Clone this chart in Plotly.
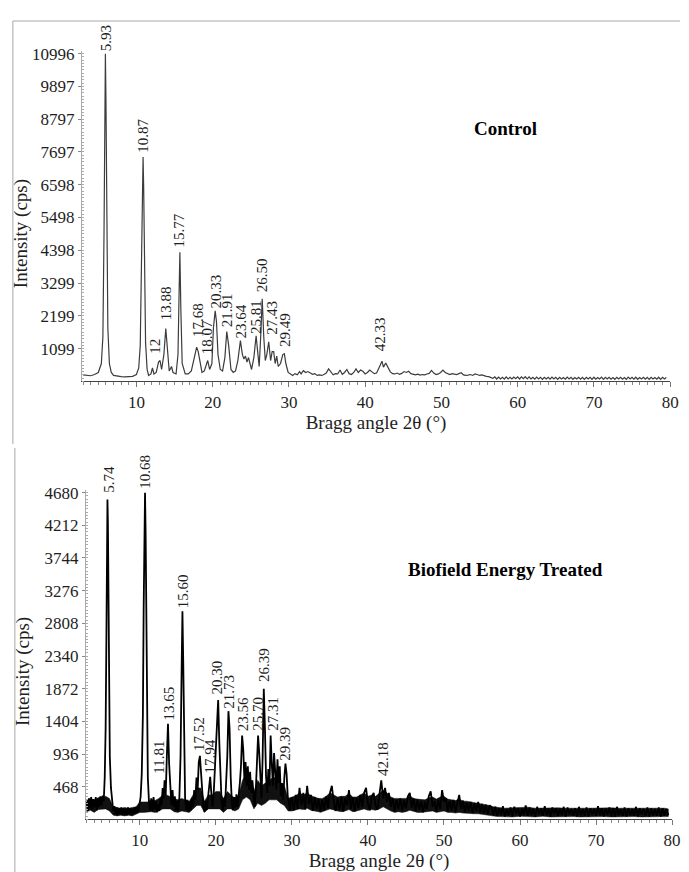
import plotly.graph_objects as go

# ---------------- data ----------------
CONTROL_SCAN = """
3.0 220 3.5 200 4.0 190 4.5 230 5.0 300 5.4 600 5.6 1500 5.75 5000 5.85 9000 5.93 10996
6.0 9500 6.1 5500 6.25 1800 6.45 600 6.7 300 7.0 200 7.5 170 8.0 160 8.5 150 9.0 150
9.5 170 10.0 230 10.3 450 10.5 1200 10.7 4500 10.8 6800 10.87 7530 10.95 6500 11.05 3800
11.2 1300 11.4 400 11.6 200 11.9 250 12.1 450 12.3 250 12.6 300 12.9 650 13.1 700 13.3 400
13.6 900 13.85 1770 14.1 900 14.3 350 14.6 500 14.8 300 15.2 250 15.45 900 15.62 3300
15.7 4330 15.82 2500 16.0 600 16.4 250 16.8 250 17.2 350 17.5 650 17.7 900 17.9 1150
18.1 1000 18.3 700 18.6 300 18.9 350 19.2 650 19.35 700 19.6 400 19.9 600 20.1 1800
20.33 2370 20.5 2000 20.7 900 21.0 400 21.3 350 21.6 800 21.85 1670 22.1 1200 22.4 400
22.7 300 23.0 350 23.3 700 23.64 1370 23.9 900 24.1 750 24.3 850 24.5 650 24.7 800
24.9 600 25.1 400 25.4 800 25.7 1530 25.9 1000 26.1 500 26.3 1500 26.5 2770 26.7 1500
26.9 700 27.1 900 27.35 1330 27.6 700 27.8 1000 28.0 1000 28.2 600 28.4 850 28.6 500
28.9 600 29.2 900 29.4 930 29.6 600 29.9 300 30.2 250 30.5 200 30.8 260 31.1 220
31.4 330 31.6 250 31.9 360 32.2 300 32.5 330 32.8 280 33.1 240 33.4 260 33.7 200
34.0 220 34.3 200 34.6 230 34.9 280 35.2 420 35.5 300 35.8 220 36.1 260 36.4 250
36.7 380 37.0 240 37.3 300 37.6 400 37.9 260 38.2 230 38.5 300 38.8 420 39.1 300
39.4 380 39.7 340 40.0 250 40.3 300 40.6 380 40.9 320 41.2 260 41.5 280 41.8 420
42.0 560 42.2 680 42.4 480 42.7 620 43.0 450 43.3 320 43.6 260 43.9 250 44.2 280
44.5 240 44.8 270 45.1 330 45.4 300 45.7 340 46.0 260 46.3 230 46.6 220 46.9 240
47.2 210 47.5 230 47.8 220 48.1 250 48.4 270 48.7 370 49.0 280 49.3 230 49.6 250
49.9 300 50.2 380 50.5 300 50.8 250 51.1 230 51.4 260 51.7 240 52.0 230 52.3 260
52.6 290 52.9 220 53.2 200 53.5 210 53.8 230 54.1 200 54.4 250 54.7 230 55.0 200
55.3 220 55.6 190 55.9 170 56.2 160 56.5 140 56.75 100 57.0 150 57.25 80 57.5 145
57.75 85 58.0 140 58.25 75 58.5 150 58.75 85 59.0 135 59.25 80 59.5 145 59.75 90
60.0 150 60.25 80 60.5 155 60.75 90 61.0 160 61.25 85 61.5 150 61.75 80 62.0 140
62.25 75 62.5 145 62.75 85 63.0 135 63.25 70 63.5 140 63.75 80 64.0 135 64.25 75
64.5 145 64.75 80 65.0 135 65.25 70 65.5 140 65.75 80 66.0 130 66.25 75 66.5 145
66.75 80 67.0 135 67.25 70 67.5 130 67.75 80 68.0 140 68.25 75 68.5 135 68.75 70
69.0 140 69.25 80 69.5 135 69.75 70 70.0 140 70.25 75 70.5 130 70.75 80 71.0 145
71.25 70 71.5 135 71.75 80 72.0 140 72.25 75 72.5 130 72.75 70 73.0 140 73.25 80
73.5 135 73.75 75 74.0 130 74.25 70 74.5 145 74.75 80 75.0 135 75.25 75 75.5 140
75.75 70 76.0 130 76.25 80 76.5 140 76.75 75 77.0 135 77.25 70 77.5 140 77.75 80
78.0 130 78.25 75 78.5 140 78.75 70 79.0 135 79.25 80 79.5 130
"""

TREATED_SCAN = """
3.0 250 3.15 120 3.3 300 3.45 160 3.6 320 3.75 140 3.9 290 4.05 170 4.2 320 4.35 130
4.5 300 4.65 180 4.8 330 4.95 200 5.1 340 5.25 260 5.38 600 5.5 1300 5.6 2600 5.68 4000
5.74 4580 5.8 4250 5.88 3000 5.95 1800 6.05 900 6.2 450 6.35 250 6.5 120 6.65 190
6.8 70 6.95 170 7.1 60 7.25 160 7.4 80 7.55 170 7.7 60 7.85 160 8.0 70 8.15 150 8.3 60
8.45 170 8.6 80 8.75 160 8.9 60 9.05 150 9.2 80 9.35 170 9.5 90 9.65 180 9.8 100
9.95 220 10.1 320 10.25 650 10.4 1500 10.5 3000 10.6 4300 10.68 4680 10.76 4100
10.85 2600 10.95 1200 11.05 600 11.2 250 11.35 130 11.5 300 11.65 120 11.8 320
11.95 150 12.1 260 12.25 100 12.4 220 12.55 120 12.7 300 12.85 200 13.0 450 13.12 300
13.25 560 13.4 350 13.55 900 13.7 1370 13.85 800 14.0 400 14.15 200 14.3 420 14.45 180
14.6 330 14.75 130 14.9 260 15.05 120 15.2 320 15.35 900 15.5 2200 15.6 2980 15.7 2300
15.82 900 15.95 300 16.1 140 16.25 280 16.4 110 16.55 260 16.7 130 16.85 300 17.0 180
17.15 420 17.3 280 17.45 600 17.6 420 17.75 820 17.9 910 18.05 650 18.2 380 18.35 180
18.5 110 18.65 260 18.8 140 18.95 320 19.1 500 19.25 610 19.4 380 19.55 180 19.7 340
19.85 700 20.0 1200 20.15 1550 20.3 1710 20.45 1100 20.6 500 20.75 240 20.9 130
21.05 300 21.2 180 21.35 460 21.5 900 21.65 1550 21.8 1300 21.95 600 22.1 240 22.25 130
22.4 320 22.55 170 22.7 360 22.85 180 23.0 320 23.15 520 23.3 760 23.45 1200 23.6 1000
23.75 560 23.9 820 24.05 480 24.2 760 24.35 420 24.5 680 24.65 380 24.8 560 24.95 280
25.1 180 25.25 420 25.4 820 25.55 1200 25.7 950 25.85 480 26.0 300 26.15 900 26.3 1870
26.45 1300 26.6 600 26.75 380 26.9 720 27.05 480 27.2 1200 27.35 800 27.5 480 27.65 950
27.8 680 27.95 430 28.1 860 28.25 520 28.4 760 28.55 330 28.7 520 28.85 280 29.0 600
29.15 800 29.3 650 29.45 330 29.6 240 29.75 130 29.9 300
30.0 300 30.25 130 30.5 350 30.75 150 31.0 450 31.25 200 31.5 380 31.75 140 32.0 480
32.25 220 32.5 350 32.75 120 33.0 320 33.25 150 33.5 300 33.75 100 34.0 280 34.25 130
34.5 330 34.75 160 35.0 380 35.25 480 35.5 250 35.75 120 36.0 300 36.25 140 36.5 330
36.75 110 37.0 300 37.25 200 37.5 420 37.75 150 38.0 320 38.25 110 38.5 300 38.75 160
39.0 350 39.25 180 39.5 380 39.75 450 40.0 220 40.25 130 40.5 320 40.75 380 41.0 200
41.25 140 41.5 350 41.75 560 42.0 300 42.25 450 42.5 250 42.75 380 43.0 180 43.25 300
43.5 120 43.75 280 44.0 150 44.25 300 44.5 130 44.75 270 45.0 160 45.25 330 45.5 380
45.75 170 46.0 300 46.25 120 46.5 280 46.75 140 47.0 260 47.25 100 47.5 250 47.75 150
48.0 330 48.25 400 48.5 180 48.75 260 49.0 110 49.25 280 49.5 150 49.75 420 50.0 250
50.25 300 50.5 120 50.75 260 51.0 130 51.25 280 51.5 110 51.75 260 52.0 350 52.25 150
52.5 270 52.75 100 53.0 240 53.25 120 53.5 250 53.75 90 54.0 230 54.25 120 54.5 250
54.75 100 55.0 220 55.25 90 55.5 210 55.75 80 56.0 200
56.25 170 56.5 60 56.75 180 57.0 50 57.25 160 57.5 70 57.75 190 58.0 40 58.25 150
58.5 60 58.75 170 59.0 50 59.25 180 59.5 80 59.75 160 60.0 40 60.25 150 60.5 70
60.75 200 61.0 50 61.25 170 61.5 60 61.75 150 62.0 40 62.25 180 62.5 70 62.75 160
63.0 50 63.25 190 63.5 60 63.75 150 64.0 40 64.25 170 64.5 80 64.75 160 65.0 50
65.25 150 65.5 60 65.75 180 66.0 40 66.25 170 66.5 70 66.75 150 67.0 50 67.25 160
67.5 40 67.75 180 68.0 60 68.25 150 68.5 50 68.75 170 69.0 40 69.25 160 69.5 70
69.75 150 70.0 50 70.25 190 70.5 60 70.75 160 71.0 40 71.25 150 71.5 70 71.75 170
72.0 50 72.25 160 72.5 40 72.75 180 73.0 60 73.25 150 73.5 50 73.75 170 74.0 40
74.25 160 74.5 60 74.75 150 75.0 50 75.25 180 75.5 40 75.75 160 76.0 70 76.25 150
76.5 50 76.75 170 77.0 40 77.25 160 77.5 60 77.75 150 78.0 50 78.25 170 78.5 40
78.75 160 79.0 50 79.25 150 79.5 60
"""

# thick noise band of the treated scan: 2θ, lower edge, upper edge
TREATED_BAND = """
3.0 110 280 3.5 130 300 4.0 100 270 4.5 140 310 5.0 150 320 5.5 150 330 6.0 120 300
6.5 60 180 7.0 50 170 7.5 60 160 8.0 50 170 8.5 60 160 9.0 50 170 9.5 70 180
10.0 100 250 10.5 100 250 11.0 100 250 11.5 110 280 12.0 100 270 12.5 120 300
13.0 150 350 13.5 150 350 14.0 150 330 14.5 110 300 15.0 100 280 15.5 120 300
16.0 110 280 16.5 100 260 17.0 150 350 17.5 200 450 18.0 200 450 18.5 100 260
19.0 150 350 19.5 150 350 20.0 150 400 20.5 150 400 21.0 100 300 21.5 150 400
22.0 150 350 22.5 120 300 23.0 150 350 23.5 280 560 24.0 320 650 24.5 280 600
25.0 150 400 25.5 230 560 26.0 200 480 26.5 230 520 27.0 280 560 27.5 280 600
28.0 280 600 28.5 230 520 29.0 200 480 29.5 120 300 30.0 120 320 30.5 130 340
31.0 150 380 31.5 140 350 32.0 160 380 32.5 130 340 33.0 120 320 33.5 110 300
34.0 110 300 34.5 130 330 35.0 150 380 35.5 130 350 36.0 120 320 36.5 110 330
37.0 120 330 37.5 140 370 38.0 110 320 38.5 120 320 39.0 130 350 39.5 150 380
40.0 130 330 40.5 140 350 41.0 130 330 41.5 150 380 42.0 180 420 42.5 150 380
43.0 120 320 43.5 100 300 44.0 110 300 44.5 100 290 45.0 110 300 45.5 130 340
46.0 110 300 46.5 100 290 47.0 100 280 47.5 100 280 48.0 110 310 48.5 120 320
49.0 100 290 49.5 110 320 50.0 120 330 50.5 100 290 51.0 100 280 51.5 90 270
52.0 100 290 52.5 90 260 53.0 90 260 53.5 80 250 54.0 80 240 54.5 80 240
55.0 70 230 55.5 70 220 56.0 60 200 56.5 50 180 57.0 40 170 57.5 40 160
58.0 45 160 59.0 35 165 60.0 45 170 61.0 40 175 62.0 35 160 63.0 45 165
64.0 35 160 65.0 40 165 66.0 35 160 67.0 40 165 68.0 35 160 69.0 40 160
70.0 35 165 71.0 40 160 72.0 35 165 73.0 40 160 74.0 35 160 75.0 40 165
76.0 35 160 77.0 40 160 78.0 35 165 79.0 40 160 79.5 40 150
"""

# peak labels: text, x position, y position (label foot)
CONTROL_LABELS = ["5.93", "10.87", "12", "13.88", "15.77", "17.68", "18.07", "20.33",
                  "21.91", "23.64", "25.81", "26.50", "27.43", "29.49", "42.33"]
CONTROL_LABEL_X = [5.94, 10.85, 12.4, 13.8, 15.6, 18.0, 19.2, 20.4,
                   21.8, 23.7, 25.6, 26.5, 27.8, 29.4, 41.9]
CONTROL_LABEL_Y = [11030, 7600, 866, 2000, 4430, 1433, 833, 2366,
                   1766, 1366, 1533, 2932, 1500, 1100, 933]

TREATED_LABELS = ["5.74", "10.68", "11.81", "13.65", "15.60", "17.52", "17.94", "20.30",
                  "21.73", "23.56", "25.70", "26.39", "27.31", "29.39", "42.18"]
TREATED_LABEL_X = [5.9, 10.65, 12.6, 13.9, 15.6, 17.8, 19.2, 20.2,
                   21.8, 23.6, 25.5, 26.3, 27.5, 29.1, 41.9]
TREATED_LABEL_Y = [4653, 4705, 626, 1380, 3000, 953, 626, 1765,
                   1551, 1238, 1238, 1935, 1238, 811, 598]

CONTROL_YTICKS = [1099, 2199, 3299, 4398, 5498, 6598, 7697, 8797, 9897, 10996]
TREATED_YTICKS = [468, 936, 1404, 1872, 2340, 2808, 3276, 3744, 4212, 4680]
X_TICKS = [10, 20, 30, 40, 50, 60, 70, 80]

X_TITLE = "Bragg angle 2θ (°)"
Y_TITLE = "Intensity (cps)"


def parse(scan, k=2):
    nums = [float(v) for v in scan.split()]
    return [nums[i::k] for i in range(k)]


cx, cy = parse(CONTROL_SCAN)
tx, ty = parse(TREATED_SCAN)
bx, blo, bhi = parse(TREATED_BAND, 3)

W, H = 689, 872
SERIF = "Liberation Serif, Times New Roman, serif"
TXT = "#1e1e1e"


def px_x(p):
    return p / W


def px_y(p):
    return 1 - p / H


fig = go.Figure()
fig.add_trace(go.Scatter(x=cx, y=cy, mode="lines", line=dict(color="#3c3c3c", width=1.2),
                         xaxis="x", yaxis="y", hoverinfo="skip"))
# noise band (upper edge forward, lower edge back) filled black
fig.add_trace(go.Scatter(x=bx + bx[::-1], y=bhi + blo[::-1], mode="lines", fill="toself",
                         fillcolor="#111111", line=dict(color="#111111", width=0.5),
                         xaxis="x2", yaxis="y2", hoverinfo="skip"))
fig.add_trace(go.Scatter(x=tx, y=ty, mode="lines", line=dict(color="#000000", width=1.8),
                         xaxis="x2", yaxis="y2", hoverinfo="skip"))

xcommon = dict(
    tickvals=X_TICKS, ticktext=[str(v) for v in X_TICKS],
    ticks="outside", ticklen=5, tickcolor="#777", tickwidth=1,
    minor=dict(dtick=1, ticks="outside", ticklen=3, tickcolor="#888", tickwidth=1),
    showline=True, linecolor="#444", linewidth=1,
    showgrid=False, zeroline=False,
    tickfont=dict(family=SERIF, size=17, color=TXT),
    ticklabelstandoff=0,
    title=dict(text=X_TITLE, font=dict(family=SERIF, size=19, color=TXT), standoff=2),
)

fig.update_layout(
    width=W, height=H, autosize=False,
    margin=dict(l=0, r=0, t=0, b=0),
    paper_bgcolor="white", plot_bgcolor="white",
    showlegend=False,
    xaxis=dict(domain=[px_x(83), px_x(679)], range=[2.85, 80], anchor="y", **xcommon),
    yaxis=dict(domain=[px_y(378), px_y(45)], range=[0, 11096], anchor="x",
               tickvals=CONTROL_YTICKS, ticktext=[str(v) for v in CONTROL_YTICKS],
               ticks="outside", ticklen=3, tickcolor="#888",
               minor=dict(dtick=110, ticks="inside", ticklen=2, tickcolor="#aaa"),
               showline=True, linecolor="#aaa", linewidth=1,
               showgrid=False, zeroline=False,
               tickfont=dict(family=SERIF, size=17, color=TXT)),
    xaxis2=dict(domain=[px_x(87), px_x(681)], range=[2.9, 80], anchor="y2", **xcommon),
    yaxis2=dict(domain=[px_y(819), px_y(487)], range=[0, 4723], anchor="x2",
                tickvals=TREATED_YTICKS, ticktext=[str(v) for v in TREATED_YTICKS],
                ticks="outside", ticklen=3, tickcolor="#888",
                minor=dict(dtick=46.8, ticks="inside", ticklen=2, tickcolor="#aaa"),
                showline=True, linecolor="#aaa", linewidth=1,
                showgrid=False, zeroline=False,
                tickfont=dict(family=SERIF, size=17, color=TXT)),
)

annotations = []
for t, x, y in zip(CONTROL_LABELS, CONTROL_LABEL_X, CONTROL_LABEL_Y):
    annotations.append(dict(text=t, x=x, y=y, xref="x", yref="y", showarrow=False,
                            textangle=-90, xanchor="center", yanchor="bottom",
                            font=dict(family=SERIF, size=15, color=TXT)))
for t, x, y in zip(TREATED_LABELS, TREATED_LABEL_X, TREATED_LABEL_Y):
    annotations.append(dict(text=t, x=x, y=y, xref="x2", yref="y2", showarrow=False,
                            textangle=-90, xanchor="center", yanchor="bottom",
                            font=dict(family=SERIF, size=15, color=TXT)))

annotations += [
    dict(text="<b>Control</b>", x=px_x(512), y=px_y(123), xref="paper", yref="paper",
         xanchor="center", yanchor="middle",
         showarrow=False, font=dict(family=SERIF, size=19, color="#000")),
    dict(text="<b>Biofield Energy Treated</b>", x=px_x(512), y=px_y(567), xref="paper",
         yref="paper", xanchor="center", yanchor="middle",
         showarrow=False, font=dict(family=SERIF, size=19, color="#000")),
    dict(text=Y_TITLE, x=px_x(22), y=px_y(229), xref="paper", yref="paper", showarrow=False,
         xanchor="center", yanchor="middle",
         textangle=-90, font=dict(family=SERIF, size=19, color=TXT)),
    dict(text=Y_TITLE, x=px_x(24), y=px_y(670), xref="paper", yref="paper", showarrow=False,
         xanchor="center", yanchor="middle",
         textangle=-90, font=dict(family=SERIF, size=19, color=TXT)),
]
fig.update_layout(annotations=annotations)

frame = dict(color="#c4c4c4", width=1.5)
fig.update_layout(shapes=[
    dict(type="line", xref="paper", yref="paper", x0=px_x(13), x1=1.0, y0=px_y(15), y1=px_y(15), line=frame),
    dict(type="line", xref="paper", yref="paper", x0=px_x(13), x1=px_x(13), y0=px_y(15), y1=px_y(441), line=frame),
    dict(type="line", xref="paper", yref="paper", x0=px_x(15), x1=px_x(15), y0=px_y(445), y1=0.0, line=frame),
])

fig.write_html("out.html",
               config={"displayModeBar": False, "responsive": False},
               post_script="document.body.style.margin='0';document.body.style.overflow='hidden';")
